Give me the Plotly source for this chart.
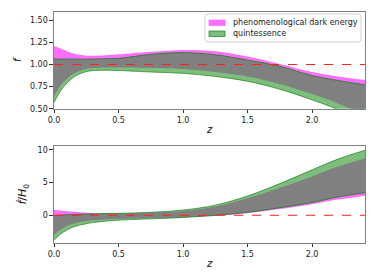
import numpy as np
import plotly.graph_objects as go
from plotly.subplots import make_subplots

# ---- data ----
z = [0, 0.05, 0.1, 0.15, 0.2, 0.25, 0.3, 0.4, 0.5, 0.75, 1.0, 1.25, 1.5, 1.75, 2.0, 2.2, 2.41]

# top panel: f
f_pde_up = [1.21, 1.18, 1.15, 1.125, 1.11, 1.10, 1.10, 1.105, 1.115, 1.145, 1.165, 1.15, 1.09, 1.005, 0.915, 0.865, 0.825]
f_pde_lo = [0.64, 0.76, 0.84, 0.895, 0.93, 0.95, 0.96, 0.965, 0.967, 0.96, 0.95, 0.915, 0.865, 0.78, 0.665, 0.56, 0.43]
f_q_up = [1.065, 1.062, 1.06, 1.06, 1.06, 1.06, 1.062, 1.066, 1.07, 1.115, 1.135, 1.11, 1.05, 0.98, 0.875, 0.82, 0.77]
f_q_lo = [0.57, 0.70, 0.79, 0.855, 0.895, 0.92, 0.93, 0.935, 0.932, 0.915, 0.90, 0.865, 0.81, 0.72, 0.60, 0.49, 0.35]

# bottom panel: fdot/H0
fd_pde_up = [0.8, 0.72, 0.62, 0.52, 0.45, 0.38, 0.32, 0.28, 0.27, 0.38, 0.65, 1.35, 2.6, 4.2, 5.95, 7.45, 8.7]
fd_q_up = [-0.05, 0.02, 0.08, 0.13, 0.17, 0.2, 0.23, 0.28, 0.3, 0.45, 0.8, 1.55, 2.95, 4.85, 6.95, 8.6, 9.95]
fd_pde_lo = [-3.0, -2.2, -1.65, -1.3, -1.05, -0.9, -0.78, -0.63, -0.55, -0.42, -0.3, -0.1, 0.3, 0.95, 1.7, 2.4, 3.0]
fd_q_lo = [-3.8, -2.9, -2.25, -1.8, -1.5, -1.3, -1.12, -0.9, -0.75, -0.55, -0.35, 0.0, 0.45, 1.15, 1.95, 2.8, 3.45]

labels = ["phenomenological dark energy", "quintessence"]
x_ticks = [0.0, 0.5, 1.0, 1.5, 2.0]
f_ticks = [0.5, 0.75, 1.0, 1.25, 1.5]
fd_ticks = [0, 5, 10]

MAG = "rgb(255,110,255)"
GRN = "rgb(125,190,125)"
GRAY = "rgb(128,128,128)"
EDGE = "rgba(0,110,0,0.75)"
FONT = "DejaVu Sans"
W, H = 374, 280

fig = make_subplots(rows=2, cols=1)


def add_panel(row, pde_lo, pde_up, q_lo, q_up):
    common = dict(x=z, mode="lines", line_shape="spline", hoverinfo="skip", showlegend=False)
    fig.add_trace(go.Scatter(y=pde_lo, line=dict(width=0), **common), row=row, col=1)
    fig.add_trace(go.Scatter(y=pde_up, line=dict(width=0), fill="tonexty", fillcolor=MAG,
                             name=labels[0], **common), row=row, col=1)
    fig.add_trace(go.Scatter(y=q_lo, line=dict(width=0), **common), row=row, col=1)
    fig.add_trace(go.Scatter(y=q_up, line=dict(width=0), fill="tonexty", fillcolor=GRN,
                             name=labels[1], **common), row=row, col=1)
    lo = np.maximum(pde_lo, q_lo)
    up = np.minimum(pde_up, q_up)
    fig.add_trace(go.Scatter(y=lo, line=dict(width=0), **common), row=row, col=1)
    fig.add_trace(go.Scatter(y=up, line=dict(width=0), fill="tonexty", fillcolor=GRAY, **common),
                  row=row, col=1)
    for arr in (q_lo, q_up):
        fig.add_trace(go.Scatter(y=arr, line=dict(width=0.8, color=EDGE), **common), row=row, col=1)


add_panel(1, f_pde_lo, f_pde_up, f_q_lo, f_q_up)
add_panel(2, fd_pde_lo, fd_pde_up, fd_q_lo, fd_q_up)

fig.add_hline(y=1.0, line=dict(color="#ff2020", width=1, dash="dash"), row=1, col=1)
fig.add_hline(y=0.0, line=dict(color="#ff2020", width=1, dash="dash"), row=2, col=1)

axis_common = dict(showline=True, linecolor="#808080", linewidth=1.3, mirror=True, showgrid=False,
                   zeroline=False, ticks="outside", ticklen=3.5, tickwidth=1, tickcolor="#333",
                   automargin=False,
                   tickfont=dict(family=FONT, size=8, color="#222"))

x0, x1 = 54 / W, 365 / W
fig.update_xaxes(range=[0, 2.41], tickvals=x_ticks, tickformat=".1f", domain=[x0, x1],
                 title=dict(text="<i>z</i>", font=dict(family=FONT, size=10, color="#111"), standoff=2),
                 **axis_common)
fig.update_yaxes(range=[0.5, 1.594], tickvals=f_ticks, tickformat=".2f",
                 domain=[1 - 108.7 / H, 1 - 12 / H],
                 title=dict(text="<i>f</i>", font=dict(family=FONT, size=10, color="#111"), standoff=6),
                 row=1, col=1, **axis_common)
fig.update_yaxes(range=[-4.2, 10.65], tickvals=fd_ticks,
                 domain=[1 - 242.7 / H, 1 - 145.7 / H],
                 title=dict(text="<i>f\u0307</i>/<i>H</i><sub>0</sub>",
                            font=dict(family=FONT, size=11, color="#111"), standoff=8),
                 row=2, col=1, **axis_common)


# ---- manual legend (matplotlib style) ----
def px(x):
    return x / W


def py(y):
    return 1 - y / H


bx0, bx1, by0, by1, r = 205, 361, 14, 42, 3
path = (f"M {px(bx0 + r)} {py(by0)} L {px(bx1 - r)} {py(by0)} "
        f"Q {px(bx1)} {py(by0)} {px(bx1)} {py(by0 + r)} L {px(bx1)} {py(by1 - r)} "
        f"Q {px(bx1)} {py(by1)} {px(bx1 - r)} {py(by1)} L {px(bx0 + r)} {py(by1)} "
        f"Q {px(bx0)} {py(by1)} {px(bx0)} {py(by1 - r)} L {px(bx0)} {py(by0 + r)} "
        f"Q {px(bx0)} {py(by0)} {px(bx0 + r)} {py(by0)} Z")
fig.add_shape(type="path", path=path, xref="paper", yref="paper",
              fillcolor="rgba(255,255,255,0.85)", line=dict(color="#d0d0d0", width=1), layer="above")
sw = [(MAG, None, 20, 25.5), (GRN, EDGE, 31, 36.5)]
for (col, edge, ya, yb), lab in zip(sw, labels):
    fig.add_shape(type="rect", xref="paper", yref="paper", x0=px(209), x1=px(225), y0=py(yb), y1=py(ya),
                  fillcolor=col, line=dict(color=edge or col, width=0.8), layer="above")
    fig.add_annotation(text=lab, xref="paper", yref="paper", x=px(231), y=py((ya + yb) / 2),
                       xanchor="left", yanchor="middle", showarrow=False,
                       font=dict(family=FONT, size=8, color="#222"))

fig.update_layout(
    template="none",
    width=W, height=H,
    margin=dict(l=0, r=0, t=0, b=0),
    paper_bgcolor="white", plot_bgcolor="white",
    font=dict(family=FONT, size=8, color="#222"),
    showlegend=False,
)

fig.write_html("out.html", config={"displayModeBar": False},
               post_script="document.body.style.margin='0';document.body.style.padding='0';")
